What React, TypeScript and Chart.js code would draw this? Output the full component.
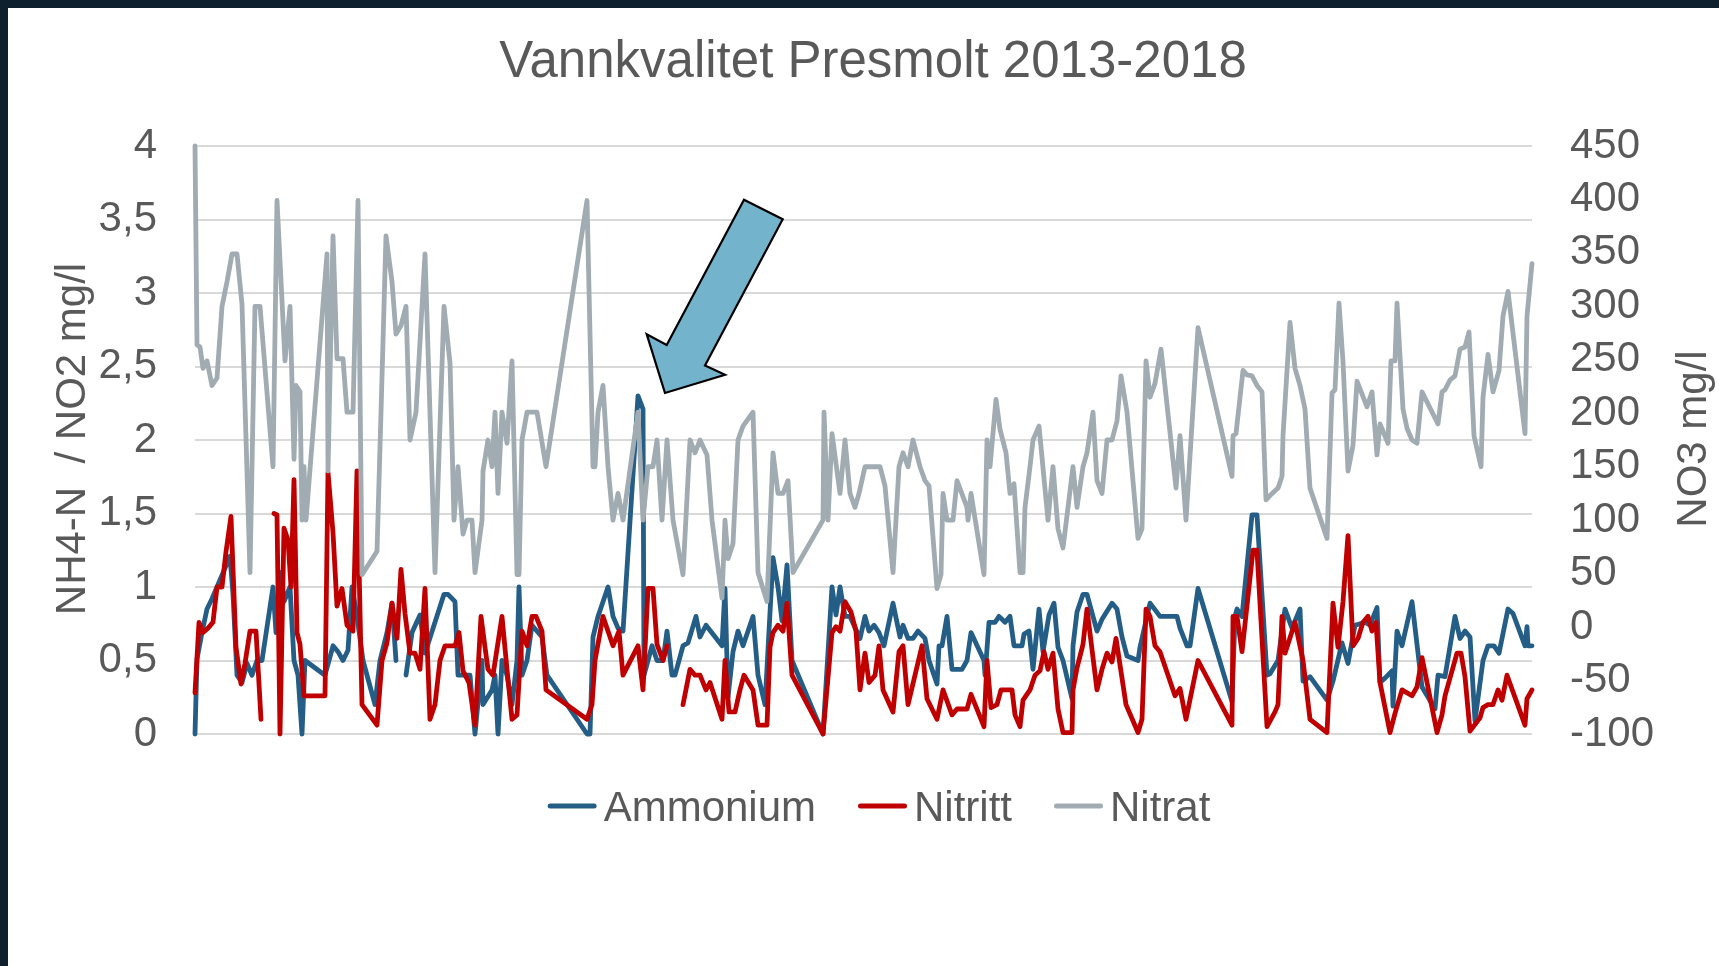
import React, { useEffect, useRef } from "react";
import { Chart, registerables } from "chart.js";

Chart.register(...registerables);

// ---- Data (sample day since start of series, value) ----
const ammoniumDay = [
  0, 2, 7, 12, 17, 22, 27, 35, 38, 42, 47, 52, 57, 62, 67, 78, 81, 86, 89, 95, 99, 103, 107, 110, 130, 138, 143, 148, 153, 157, 162, 168, 180, 185, 192, 197, 201, 206, 211, 217, 225, 230, 249, 253, 260, 263, 269,
  275, 280, 287, 288, 297, 300, 303, 307, 312, 317, 322, 324, 327, 332, 337, 347, 352, 392, 395, 398, 403, 413, 418, 423, 428, 443, 448, 449, 457, 462, 468, 472, 477, 480, 488, 493, 501, 505, 511, 527, 530, 533,
  538, 543, 548, 558, 563, 570, 578, 583, 587, 592, 597, 628, 637, 641, 645, 650, 655, 665, 670, 674, 679, 684, 689, 698, 705, 708, 713, 718, 723, 730, 734, 742, 744, 747, 752, 757, 767, 772, 776, 789, 790, 794, 800, 804,
  810, 815, 819, 827, 829, 834, 838, 844, 848, 854, 859, 863, 868, 877, 878, 882, 888, 892, 898, 902, 907, 917, 922, 927, 932, 943, 945, 955, 965, 982, 985, 992, 995, 1003, 1037, 1040, 1042, 1047, 1057, 1062, 1072,
  1075, 1083, 1090, 1097, 1105, 1108, 1115, 1132, 1138, 1147, 1153, 1160, 1170, 1175, 1182, 1185, 1190, 1197, 1198, 1202, 1207, 1217, 1227, 1240, 1243, 1250, 1260, 1265, 1270, 1275, 1280, 1288, 1293, 1299, 1304, 1313, 1318, 1330, 1332, 1333, 1337,
];
const ammoniumValue = [
  0, 0.51, 0.69, 0.85, 0.92, 1.0, 1.08, 1.21, 0.95, 0.4, 0.35, 0.48, 0.4, 0.5, 0.5, 1.0, 0.69, 1.1, 0.9, 1.0, 0.5, 0.4, 0, 0.5, 0.4, 0.6, 0.56, 0.5, 0.57, 1.0, 0.8, 0.5, 0.2, 0.5, 0.69, 0.89, 0.5, null, 0.4, 0.69, 0.81, 0.55, 0.95, 0.95, 0.9, 0.4, 0.4,
  0.4, 0, 0.5, 0.2, 0.3, 0.4, 0, 0.5, 0.4, 0.2, 0.5, 1.0, 0.4, 0.5, 0.74, 0.66, 0.4, 0, 0, 0.66, 0.8, 1.0, 0.8, 0.72, 0.7, 2.3, 2.21, 0.4, 0.6, 0.5, 0.5, 0.7, 0.4, 0.4, 0.6, 0.62, 0.8, 0.66, 0.74, 0.6, 0.99, 0.25,
  0.56, 0.7, 0.6, 0.8, 0.4, 0.2, 1.2, 1.0, 0.77, 1.15, 0.5, 0, 1.0, 0.81, 1.0, 0.8, 0.8, 0.65, 0.8, 0.7, 0.74, 0.69, 0.6, 0.89, 0.66, 0.74, 0.65, 0.65, 0.7, 0.65, 0.5, 0.34, 0.6, 0.6, 0.8, 0.44, 0.44, 0.5, 0.69, 0.5, 0.4, 0.76, 0.76, 0.8,
  0.76, 0.8, 0.6, 0.6, 0.68, 0.7, 0.44, 0.85, 0.56, 0.81, 0.89, 0.59, 0.5, 0.24, 0.6, 0.83, 0.95, 0.95, 0.8, 0.7, 0.78, 0.89, 0.85, 0.66, 0.53, 0.5, 0.59, 0.89, 0.8, 0.8, 0.72, 0.6, 0.6, 0.99, 0.22, 0.8, 0.85, 0.8, 1.49, 1.49, 0.4,
  0.41, 0.5, 0.85, 0.72, 0.85, 0.36, 0.39, 0.23, 0.36, 0.62, 0.48, 0.74, 0.76, 0.74, 0.86, 0.35, 0.38, 0.43, 0.19, 0.7, 0.6, 0.9, 0.32, 0.17, 0.4, 0.39, 0.8, 0.65, 0.7, 0.66, 0.09, 0.5, 0.6, 0.6, 0.55, 0.85, 0.82, 0.6, 0.73, 0.6, 0.6,
];

const nitrittDay = [
  0, 4, 8, 13, 18, 22, 27, 31, 36, 41, 46, 50, 55, 61, 66, 72, 79, 82, 85, 89, 93, 96, 99, 102, 105, 109, 130, 133, 138, 142, 147, 152, 158, 162, 167, 182, 187, 192, 197, 202, 206, 210, 215, 220, 225, 230, 235, 240, 245, 250, 260, 264,
  268, 274, 280, 286, 290, 293, 298, 307, 312, 317, 322, 327, 332, 337, 341, 347, 351, 392, 397, 400, 408, 418, 424, 428, 443, 448, 453, 458, 462, 468, 472, 480, 488, 495, 500, 505, 511, 515, 527, 530, 534,
  540, 545, 549, 558, 563, 572, 575, 578, 583, 588, 592, 597, 628, 637, 641, 645, 650, 656, 661, 665, 670, 674, 680, 684, 688, 698, 704, 708, 713, 727, 732, 742, 748, 757, 762, 772, 776, 789, 792, 796, 802, 806,
  817, 820, 825, 828, 835, 840, 845, 849, 853, 858, 863, 868, 877, 878, 882, 888, 892, 902, 907, 912, 917, 921, 931, 943, 947, 951, 955, 960, 965, 980, 985, 991, 1003, 1037, 1038, 1042, 1047, 1058, 1062, 1072, 1080,
  1083, 1087, 1090, 1100, 1108, 1115, 1132, 1138, 1143, 1148, 1153, 1158, 1163, 1168, 1173, 1177, 1181, 1185, 1195, 1200, 1207, 1217, 1222, 1227, 1242, 1247, 1250, 1262, 1266, 1270, 1275, 1285, 1288, 1293, 1298, 1303, 1307, 1312, 1330, 1332, 1337,
];
const nitrittValue = [
  0.28, 0.76, 0.69, 0.72, 0.76, 1.0, 1.0, 1.24, 1.48, 0.59, 0.34, 0.48, 0.7, 0.7, 0.1, null, 1.5, 1.49, 0, 1.4, 1.32, 1.0, 1.73, 0.69, 0.61, 0.26, 0.26, 1.78, 1.37, 0.87, 0.99, 0.74, 0.7, 1.79, 0.2, 0.06, 0.5, 0.62, 0.89, 0.65, 1.12, 0.82, 0.55, 0.55, 0.44, 0.99, 0.1, 0.2, 0.5, 0.6, 0.6, 0.69,
  0.43, 0.35, 0.06, 0.8, 0.59, 0.44, 0.4, 0.8, 0.44, 0.1, 0.13, 0.7, 0.6, 0.8, 0.8, 0.7, 0.3, 0.1, 0.2, 0.5, 0.8, 0.6, 0.7, 0.4, 0.6, 0.3, 0.99, 0.99, 0.61, 0.5, 0.6, null, 0.2, 0.44, 0.4, 0.4, 0.3, 0.35, 0.1, 0.5, 0.15,
  0.15, 0.3, 0.4, 0.3, 0.06, 0.06, 0.59, 0.69, 0.74, 0.7, 0.89, 0.4, 0, 0.69, 0.73, 0.7, 0.9, 0.83, 0.7, 0.3, 0.55, 0.35, 0.4, 0.6, 0.3, 0.15, 0.56, 0.6, 0.2, 0.6, 0.24, 0.1, 0.3, 0.13, 0.17, 0.17, 0.27, 0.05, 0.5, 0.18, 0.2, 0.3,
  0.3, 0.13, 0.05, 0.23, 0.3, 0.4, 0.43, 0.56, 0.44, 0.55, 0.17, 0.01, 0.01, 0.3, 0.45, 0.61, 0.85, 0.3, 0.44, 0.55, 0.49, 0.65, 0.2, 0.01, 0.1, 0.85, 0.8, 0.6, 0.56, 0.26, 0.31, 0.1, 0.5, 0.06, 0.8, 0.8, 0.56, 1.25, 1.25, 0.05, 0.15,
  0.2, 0.8, 0.55, 0.76, 0.5, 0.1, 0.01, 0.89, 0.59, 0.9, 1.35, 0.6, 0.65, 0.76, 0.8, 0.7, 0.76, 0.35, 0.01, 0.14, 0.3, 0.26, 0.32, 0.52, 0.01, 0.13, 0.26, 0.55, 0.55, 0.39, 0.02, 0.11, 0.18, 0.2, 0.2, 0.3, 0.23, 0.4, 0.06, 0.24, 0.3,
];

const nitratDay = [
  0, 2, 5, 8, 12, 17, 22, 27, 32, 37, 42, 47, 55, 60, 65, 78, 82, 90, 95, 99, 101, 105, 107, 109, 111, 132, 133, 138, 142, 148, 152, 158, 163, 167, 182, 186, 191, 197, 201, 206, 211, 215, 221, 230, 240, 249, 255, 259, 263,
  268, 272, 277, 280, 287, 288, 293, 297, 300, 303, 307, 312, 317, 322, 324, 327, 332, 342, 351, 392, 398, 400, 403, 408, 413, 418, 423, 428, 443, 448, 453, 458, 462, 467, 472, 478, 488, 495, 500, 505, 512, 517, 527, 530, 533,
  538, 543, 548, 558, 563, 572, 578, 583, 588, 593, 598, 628, 629, 633, 637, 645, 650, 655, 660, 664, 670, 685, 690, 698, 704, 708, 713, 718, 725, 730, 734, 742, 746, 748, 752, 758, 762, 772, 773, 776, 789, 792, 795, 801, 805,
  811, 815, 819, 825, 828, 830, 835, 838, 844, 853, 858, 863, 868, 878, 882, 888, 892, 898, 902, 907, 912, 917, 922, 926, 932, 943, 947, 951, 955, 960, 966, 981, 985, 991, 1003, 1037, 1038, 1041, 1048, 1052, 1057, 1062, 1067, 1071,
  1075, 1083, 1087, 1088, 1095, 1100, 1105, 1110, 1115, 1132, 1137, 1140, 1144, 1148, 1153, 1158, 1162, 1172, 1177, 1182, 1185, 1193, 1196, 1200, 1202, 1208, 1212, 1217, 1222, 1227, 1243, 1247, 1250, 1255, 1260, 1265, 1270, 1274,
  1279, 1286, 1288, 1293, 1298, 1304, 1308, 1313, 1330, 1332, 1337,
];
const nitratValue = [
  450, 264, 262, 242, 249, 226, 233, 300, 323, 349, 349, 302, 51, 300, 300, 150, 399, 249, 300, 157, 226, 220, 100, 150, 100, 349, 146, 366, 251, 251, 201, 201, 399, 49, 71, 201, 366, 323, 274, 282, 300, 175, 201, 349, 51, 300, 247, 100, 150,
  87, 100, 100, 51, 100, 146, 175, 150, 201, 125, 201, 172, 249, 49, 49, 175, 201, 201, 150, 399, 150, 150, 201, 226, 150, 100, 125, 100, 201, 100, 150, 150, 175, 100, 175, 100, 49, 175, 163, 175, 161, 100, 27, 100, 64,
  78, 175, 188, 201, 51, 24, 163, 125, 125, 137, 51, 100, 201, 100, 181, 125, 175, 125, 112, 125, 150, 150, 132, 51, 150, 163, 150, 175, 150, 137, 132, 36, 49, 125, 100, 100, 137, 112, 100, 125, 49, 175, 150, 213, 185,
  163, 125, 134, 51, 51, 112, 150, 175, 188, 100, 150, 92, 74, 150, 112, 150, 163, 201, 137, 125, 175, 175, 193, 235, 201, 83, 92, 249, 215, 228, 260, 130, 179, 100, 280, 141, 179, 181, 240, 236, 235, 226, 220, 119,
  123, 130, 141, 179, 285, 242, 226, 204, 130, 83, 219, 222, 303, 248, 146, 170, 230, 206, 220, 161, 190, 172, 249, 249, 303, 204, 186, 175, 172, 220, 190, 220, 222, 231, 235, 260, 262, 276,
  179, 150, 215, 255, 220, 240, 291, 314, 181, 291, 340,
];

const leftAxisTicks = [0, 0.5, 1, 1.5, 2, 2.5, 3, 3.5, 4];
const rightAxisTicks = [-100, -50, 0, 50, 100, 150, 200, 250, 300, 350, 400, 450];

const seriesNames = ["Ammonium", "Nitritt", "Nitrat"];
const seriesColors = ["#245E86", "#C00000", "#A0ABB2"];

// Arrow annotation (day, left-axis value)
const arrowDay = [470, 451.7, 471.7, 549, 587.7, 510, 530];
const arrowValue = [2.32, 2.72, 2.646, 3.635, 3.502, 2.507, 2.444];

const TITLE = "Vannkvalitet Presmolt 2013-2018";
const LEFT_TITLE = "NH4-N  / NO2 mg/l";
const RIGHT_TITLE = "NO3 mg/l";

const FONT = "'Liberation Sans', Arial, sans-serif";
const TEXT = "#595959";

const W = 1711;
const H = 958;

function pts(days: number[], vals: (number | null)[]) {
  return days.map((d, i) => ({ x: d, y: vals[i] }));
}

const decorPlugin = {
  id: "decor",
  afterDatasetsDraw(chart: any) {
    const { ctx, scales } = chart;
    const xs = scales.x;
    const ys = scales.yLeft;
    ctx.save();
    ctx.beginPath();
    arrowDay.forEach((d, i) => {
      const px = xs.getPixelForValue(d);
      const py = ys.getPixelForValue(arrowValue[i]);
      if (i === 0) ctx.moveTo(px, py);
      else ctx.lineTo(px, py);
    });
    ctx.closePath();
    ctx.fillStyle = "#74B3CC";
    ctx.fill();
    ctx.lineWidth = 2.2;
    ctx.lineJoin = "miter";
    ctx.strokeStyle = "#000000";
    ctx.stroke();
    ctx.restore();
  },
  afterDraw(chart: any) {
    const { ctx } = chart;
    ctx.save();
    ctx.fillStyle = TEXT;
    // title
    ctx.font = `51px ${FONT}`;
    ctx.textAlign = "center";
    ctx.textBaseline = "alphabetic";
    ctx.fillText(TITLE, 865, 69);

    // axis titles
    ctx.font = `42px ${FONT}`;
    ctx.save();
    ctx.translate(77, 431);
    ctx.rotate(-Math.PI / 2);
    ctx.fillText(LEFT_TITLE, 0, 0);
    ctx.restore();
    ctx.save();
    ctx.translate(1698, 431);
    ctx.rotate(-Math.PI / 2);
    ctx.fillText(RIGHT_TITLE, 0, 0);
    ctx.restore();

    // legend
    const lineLen = 49;
    const gapText = 7;
    const gapItem = 42;
    const widths = seriesNames.map((n) => ctx.measureText(n).width);
    const total = widths.reduce((a, w) => a + lineLen + gapText + w, 0) + gapItem * (seriesNames.length - 1);
    let x = 871 - total / 2;
    const ly = 798;
    ctx.textAlign = "left";
    seriesNames.forEach((name, i) => {
      ctx.beginPath();
      ctx.strokeStyle = seriesColors[i];
      ctx.lineWidth = 5;
      ctx.lineCap = "round";
      ctx.moveTo(x + 2.5, ly);
      ctx.lineTo(x + lineLen - 2.5, ly);
      ctx.stroke();
      ctx.fillStyle = TEXT;
      ctx.fillText(name, x + lineLen + gapText, 813);
      x += lineLen + gapText + widths[i] + gapItem;
    });
    ctx.restore();
  },
};

export default function App() {
  const ref = useRef<HTMLCanvasElement | null>(null);

  useEffect(() => {
    if (!ref.current) return;
    const lineBase = {
      pointRadius: 0,
      borderWidth: 4.8,
      tension: 0,
      spanGaps: false,
      borderJoinStyle: "round" as const,
      borderCapStyle: "round" as const,
      fill: false,
      clip: 8,
    };
    const chart = new Chart(ref.current, {
      type: "line",
      data: {
        datasets: [
          {
            ...lineBase,
            label: seriesNames[2],
            data: pts(nitratDay, nitratValue),
            borderColor: seriesColors[2],
            backgroundColor: seriesColors[2],
            yAxisID: "yRight",
            order: 0,
          },
          {
            ...lineBase,
            label: seriesNames[1],
            data: pts(nitrittDay, nitrittValue),
            borderColor: seriesColors[1],
            backgroundColor: seriesColors[1],
            yAxisID: "yLeft",
            order: 1,
          },
          {
            ...lineBase,
            label: seriesNames[0],
            data: pts(ammoniumDay, ammoniumValue),
            borderColor: seriesColors[0],
            backgroundColor: seriesColors[0],
            yAxisID: "yLeft",
            order: 2,
          },
        ] as any,
      },
      options: {
        responsive: false,
        animation: false,
        devicePixelRatio: 1,
        layout: { padding: { left: 0, right: 0, top: 138, bottom: 232 } },
        plugins: {
          legend: { display: false },
          title: { display: false },
          tooltip: { enabled: false },
        },
        scales: {
          x: { type: "linear", min: 0, max: 1337, display: false },
          yLeft: {
            position: "left",
            min: 0,
            max: 4,
            afterFit: (s: any) => {
              s.width = 187;
            },
            afterBuildTicks: (s: any) => {
              s.ticks = leftAxisTicks.map((v) => ({ value: v }));
            },
            ticks: {
              padding: 38,
              color: TEXT,
              font: { family: FONT, size: 42 },
              callback: (v: any) => String(v).replace(".", ","),
            },
            grid: { color: "#D9D9D9", lineWidth: 2, drawTicks: false },
            border: { display: false },
          },
          yRight: {
            position: "right",
            min: -100,
            max: 450,
            afterFit: (s: any) => {
              s.width = 187;
            },
            afterBuildTicks: (s: any) => {
              s.ticks = rightAxisTicks.map((v) => ({ value: v }));
            },
            ticks: {
              padding: 38,
              color: TEXT,
              font: { family: FONT, size: 42 },
              callback: (v: any) => String(v),
            },
            grid: { drawOnChartArea: false, drawTicks: false },
            border: { display: false },
          },
        } as any,
      },
      plugins: [decorPlugin],
    });
    return () => chart.destroy();
  }, []);

  return (
    <div
      style={{
        position: "fixed",
        inset: 0,
        background: "#0E1F2D",
        padding: "8px 0 0 8px",
        boxSizing: "border-box",
        overflow: "hidden",
      }}
    >
      <canvas
        ref={ref}
        width={W}
        height={H}
        style={{ display: "block", background: "#ffffff", width: W, height: H }}
      />
    </div>
  );
}
